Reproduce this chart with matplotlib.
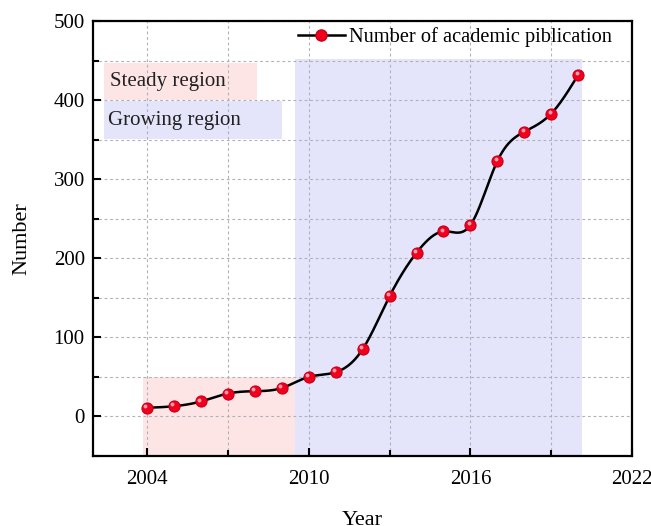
import numpy as np
import matplotlib
matplotlib.use("Agg")
import matplotlib.pyplot as plt
from matplotlib.patches import Rectangle
from matplotlib.ticker import MultipleLocator
from matplotlib.transforms import offset_copy

plt.rcParams["font.family"] = ["Liberation Serif", "DejaVu Serif"]

# --- Dados --------------------------------------------------------------
anos = np.arange(2004, 2021)
publicacoes = np.array([11, 13, 19, 29, 32, 36, 50, 56, 85, 152, 207, 234, 242, 323, 360, 383, 432])

# regiões sombreadas: (x0, x1, y0, y1)
regiao_estavel = (2003.85, 2009.5, -50, 50)
regiao_crescente = (2009.5, 2020.15, -50, 452)

COR_ROSA = "#fde5e5"
COR_AZUL = "#e4e4fb"


def spline_natural(x, y, n=600):
    """Spline cúbica natural só para suavizar a linha entre os pontos."""
    h = np.diff(x)
    k = len(x)
    A = np.zeros((k, k))
    b = np.zeros(k)
    A[0, 0] = A[-1, -1] = 1
    for i in range(1, k - 1):
        A[i, i - 1] = h[i - 1]
        A[i, i] = 2 * (h[i - 1] + h[i])
        A[i, i + 1] = h[i]
        b[i] = 3 * ((y[i + 1] - y[i]) / h[i] - (y[i] - y[i - 1]) / h[i - 1])
    c = np.linalg.solve(A, b)
    xs = np.linspace(x[0], x[-1], n)
    idx = np.clip(np.searchsorted(x, xs) - 1, 0, k - 2)
    dx = xs - x[idx]
    bb = (y[idx + 1] - y[idx]) / h[idx] - h[idx] * (2 * c[idx] + c[idx + 1]) / 3
    dd = (c[idx + 1] - c[idx]) / (3 * h[idx])
    return xs, y[idx] + bb * dx + c[idx] * dx ** 2 + dd * dx ** 3


fig = plt.figure(figsize=(6.51, 5.26), dpi=100)
ax = fig.add_axes([0.143, 0.133, 0.828, 0.827])

for (x0, x1, y0, y1), cor in ((regiao_estavel, COR_ROSA), (regiao_crescente, COR_AZUL)):
    ax.add_patch(Rectangle((x0, y0), x1 - x0, y1 - y0, facecolor=cor, edgecolor="none", zorder=0))

# caixas de texto das regiões
ax.add_patch(Rectangle((2002.4, 400), 5.7, 47, facecolor=COR_ROSA, edgecolor="none", zorder=0))
ax.add_patch(Rectangle((2002.4, 351), 6.6, 48, facecolor=COR_AZUL, edgecolor="none", zorder=0))
ax.text(2002.62, 423, "Steady region", fontsize=15, va="center", ha="left", color="#222222")
ax.text(2002.55, 374, "Growing region", fontsize=15, va="center", ha="left", color="#222222")

xs, ys = spline_natural(anos.astype(float), publicacoes.astype(float))
ax.plot(xs, ys, color="black", lw=1.8, zorder=3)
ax.plot(anos, publicacoes, ls="none", marker="o", ms=8, mfc="#f0001c", mec="#c8001a", mew=0.8, zorder=4)
brilho = offset_copy(ax.transData, fig=fig, x=-1.1, y=1.3, units="points")
ax.plot(anos, publicacoes, ls="none", marker="o", ms=2.8, mfc="#ff9fb0", mec="none", transform=brilho, zorder=5)

# legenda (linha + marcador)
ax.plot([], [], color="black", lw=1.8, marker="o", ms=8, mfc="#f0001c", mec="#c8001a",
        label="Number of academic piblication")
ax.legend(loc="upper right", bbox_to_anchor=(0.974, 1.0), frameon=False, fontsize=14.7,
          handlelength=2.3, handletextpad=0.2, borderaxespad=0.05, borderpad=0.25)

ax.set_xlim(2002, 2022)
ax.set_ylim(-50, 500)
ax.xaxis.set_major_locator(MultipleLocator(6))
ax.xaxis.set_minor_locator(MultipleLocator(3))
ax.yaxis.set_major_locator(MultipleLocator(100))
ax.yaxis.set_minor_locator(MultipleLocator(50))
ax.grid(True, which="both", ls=(0, (2.5, 2.5)), color="#b0b0b8", lw=0.8, zorder=1)
ax.set_axisbelow(True)

ax.tick_params(which="both", direction="in", top=False, right=False, labelsize=15, width=1.5)
ax.tick_params(which="major", length=6)
ax.tick_params(which="minor", length=4)
ax.tick_params(axis="x", pad=10)
ax.tick_params(axis="y", pad=6)
for s in ax.spines.values():
    s.set_linewidth(1.6)

ax.set_xlabel("Year", fontsize=16, labelpad=16)
ax.set_ylabel("Number", fontsize=16, labelpad=16)

fig.savefig("out.png", dpi=100)
